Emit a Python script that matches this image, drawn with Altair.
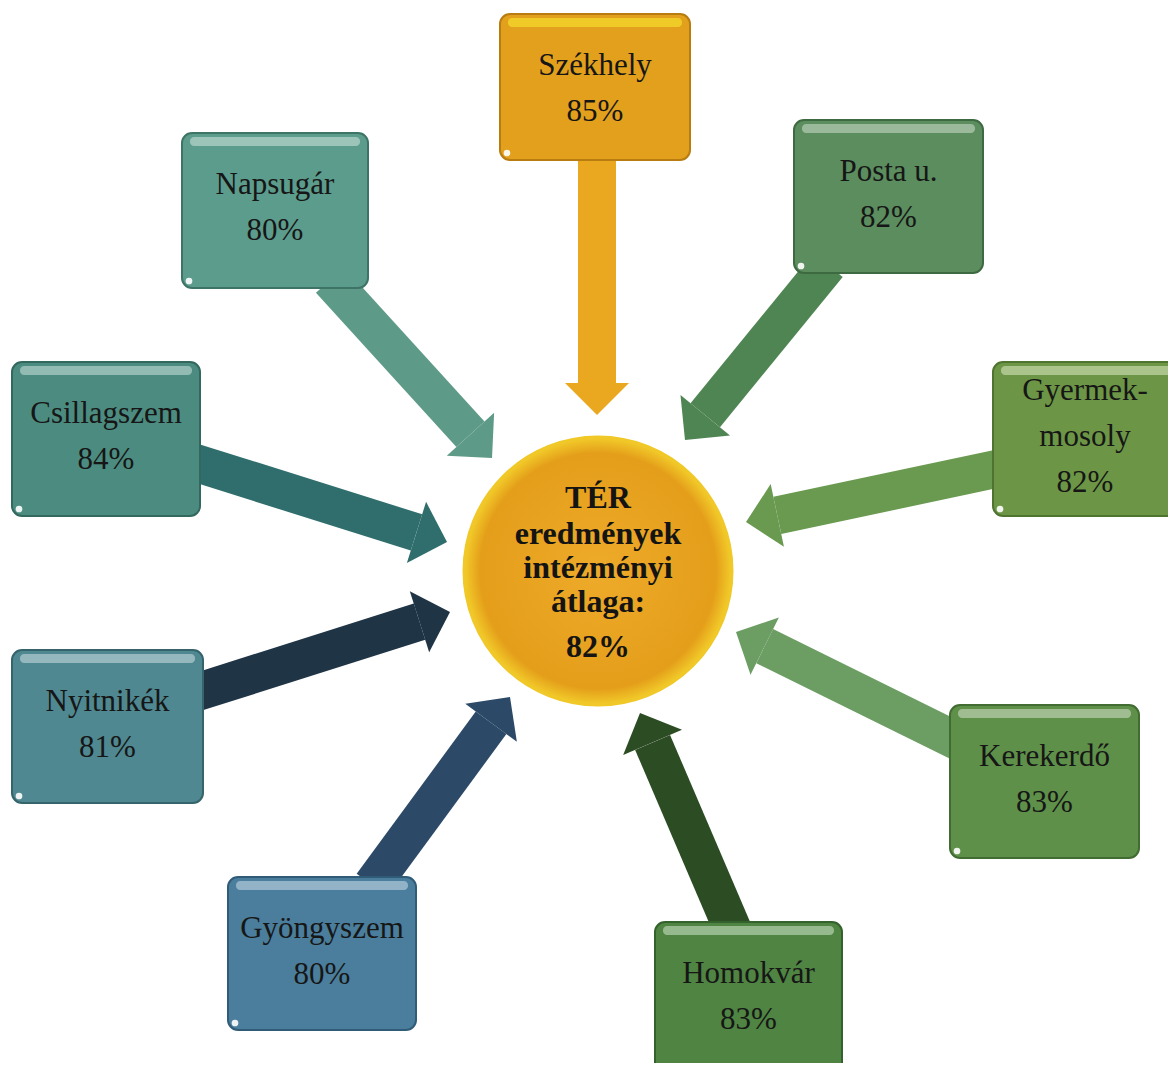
import math
import altair as alt
import pandas as pd

# ---- content ----
names = ["Székhely", "Napsugár", "Posta u.", "Csillagszem", "Gyermek-\nmosoly",
         "Nyitnikék", "Kerekerdő", "Gyöngyszem", "Homokvár"]
values = [85, 80, 82, 84, 82, 81, 83, 80, 83]
center_lines = ["TÉR", "eredmények", "intézményi", "átlaga:"]
center_value = 82

# ---- styles ----
box_colors = ["#E2A01C", "#5C9C8C", "#5B8D5E", "#4C8C80", "#6C9646",
              "#4F8890", "#5E904A", "#4A7E9C", "#4F8442"]
box_borders = ["#B87C10", "#3E7466", "#3E6A42", "#33685E", "#4E7430",
               "#35646C", "#416C32", "#315C78", "#34622C"]
box_lights = ["#F2D22A", "#A8CBBF", "#A6C2A6", "#9EC3BC", "#B5CC98",
              "#A0C1C6", "#AAC69C", "#9DBBCF", "#A2C29A"]
arrow_colors = ["#EAA820", "#5E9A88", "#4F8552", "#2F6E6C", "#6A9A50",
                "#1F3444", "#6C9E64", "#2C4A68", "#2C4C24"]

# ---- layout (picture pixel coordinates) ----
box_left = [500, 182, 794, 12, 993, 12, 950, 228, 655]
box_right = [690, 368, 983, 200, 1182, 203, 1139, 416, 842]
box_top = [14, 133, 120, 362, 362, 650, 705, 877, 922]
box_bottom = [160, 288, 273, 516, 516, 803, 858, 1030, 1078]
arrow_start_x = [597, 330, 828, 180, 1010, 185, 965, 372, 735]
arrow_start_y = [140, 280, 265, 458, 466, 696, 745, 885, 935]
arrow_tip_x = [597, 492, 685, 447, 746, 450, 736, 510, 640]
arrow_tip_y = [415, 458, 440, 542, 522, 612, 632, 697, 713]
center_x, center_y, center_r = 598, 571, 134
center_line_y = [498, 534, 568, 602]
center_value_y = 647

HEAD_LEN = 32
HEAD_W = 64
SHAFT_W = 38

# ---- tables ----
arrows = []
for i in range(len(names)):
    sx, sy, tx, ty = arrow_start_x[i], arrow_start_y[i], arrow_tip_x[i], arrow_tip_y[i]
    dx, dy = tx - sx, ty - sy
    L = math.hypot(dx, dy)
    ux, uy = dx / L, dy / L
    bx, by = tx - ux * HEAD_LEN, ty - uy * HEAD_LEN
    ang = (math.degrees(math.atan2(dx, -dy)) + 360) % 360
    arrows.append(dict(sx=sx, sy=sy, bx=bx, by=by, ang=ang, col=arrow_colors[i]))
arrow_df = pd.DataFrame(arrows)

boxes = pd.DataFrame(dict(
    name=names, l=box_left, r=box_right, t=box_top, b=box_bottom,
    fill=box_colors, border=box_borders, light=box_lights,
    hl_l=[l + 8 for l in box_left], hl_r=[r - 8 for r in box_right],
    hl_t=[t + 4 for t in box_top], hl_b=[t + 13 for t in box_top],
    cx=[l + 7 for l in box_left], cy=[b - 7 for b in box_bottom],
))

text_rows = []
for i, nm in enumerate(names):
    lines = nm.split("\n") + [f"{values[i]}%"]
    n = len(lines)
    xc = (box_left[i] + min(box_right[i], 1176)) / 2
    if i == 4:
        xc = 1085
    for k, ln in enumerate(lines):
        y = box_top[i] + 75 + (k - (n - 1) / 2) * 46
        text_rows.append(dict(x=xc, y=y, txt=ln))
text_df = pd.DataFrame(text_rows)

center_df = pd.DataFrame(dict(x=[center_x], y=[center_y]))
ctext_df = pd.DataFrame(dict(
    x=[center_x] * (len(center_lines) + 1),
    y=center_line_y + [center_value_y],
    txt=center_lines + [f"{center_value}%"],
))

xs = alt.Scale(domain=[8, 1168], range=[0, 1160], nice=False, zero=False)
ys = alt.Scale(domain=[8, 1063], range=[0, 1055], nice=False, zero=False)


def X(f):
    return alt.X(f, type="quantitative", scale=xs, axis=None)


def Y(f):
    return alt.Y(f, type="quantitative", scale=ys, axis=None)


shafts = alt.Chart(arrow_df).mark_rule(strokeWidth=SHAFT_W, strokeCap="butt").encode(
    x=X("sx"), y=Y("sy"), x2="bx", y2="by",
    color=alt.Color("col:N", scale=None),
)
heads = alt.Chart(arrow_df).mark_point(
    shape="M0,-1L1,0L-1,0Z", size=HEAD_W * HEAD_W, filled=True, opacity=1
).encode(
    x=X("bx"), y=Y("by"), angle=alt.Angle("ang:Q", scale=None),
    color=alt.Color("col:N", scale=None),
)

box_marks = alt.Chart(boxes).mark_rect(cornerRadius=10, strokeWidth=2).encode(
    x=X("l"), x2="r", y=Y("t"), y2="b",
    fill=alt.Fill("fill:N", scale=None),
    stroke=alt.Stroke("border:N", scale=None),
)
highlights = alt.Chart(boxes).mark_rect(cornerRadius=4, opacity=0.85).encode(
    x=X("hl_l"), x2="hl_r", y=Y("hl_t"), y2="hl_b",
    fill=alt.Fill("light:N", scale=None),
)
curls = alt.Chart(boxes).mark_point(
    shape="circle", size=45, filled=True, color="white", opacity=0.9
).encode(x=X("cx"), y=Y("cy"))

labels = alt.Chart(text_df).mark_text(
    font="Liberation Serif", fontSize=31, color="#161616",
    align="center", baseline="middle"
).encode(x=X("x"), y=Y("y"), text="txt:N")

circle = alt.Chart(center_df).mark_circle(
    size=(2 * center_r) ** 2, opacity=1,
    fill=alt.RadialGradient(
        gradient="radial",
        stops=[
            alt.GradientStop(offset=0, color="#EEAA2A"),
            alt.GradientStop(offset=0.88, color="#E49E1A"),
            alt.GradientStop(offset=1, color="#F2CC2A"),
        ],
    ),
    stroke="#F0C828", strokeWidth=3,
).encode(x=X("x"), y=Y("y"))

center_text = alt.Chart(ctext_df).mark_text(
    font="Liberation Serif", fontSize=32, fontWeight="bold", color="#141414",
    align="center", baseline="middle"
).encode(x=X("x"), y=Y("y"), text="txt:N")

chart = alt.layer(
    shafts, heads, box_marks, highlights, curls, labels, circle, center_text
).properties(
    width=1160, height=1055, padding=0,
    autosize=alt.AutoSizeParams(type="none"),
    background="white",
).configure_view(stroke=None)

chart.save("out.html", embed_options={"renderer": "svg", "actions": False})
